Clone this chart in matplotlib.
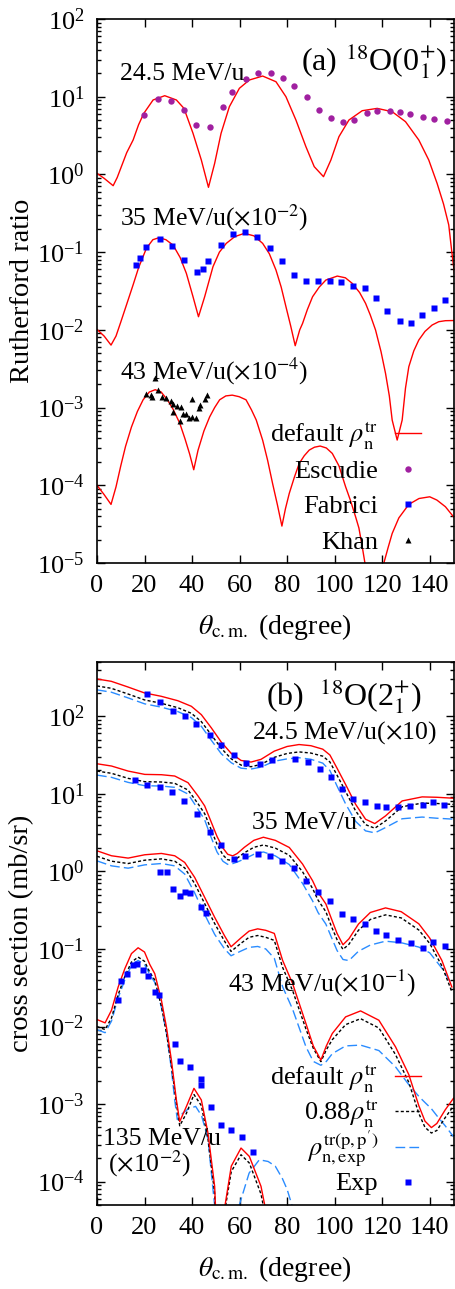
import numpy as np
import matplotlib
matplotlib.use("Agg")
import matplotlib.pyplot as plt
from matplotlib.ticker import LogLocator, NullFormatter, LogFormatterMathtext
from matplotlib.lines import Line2D

plt.rcParams.update({
    "font.family": ["Liberation Serif", "DejaVu Serif"],
    "mathtext.fontset": "stix",
    "font.size": 19,
})

# ---------------- Panel (a): elastic Rutherford ratio (log10 of unscaled value) ----------------
SCALE_A = {"24.5": 1.0, "35": 1e-2, "43": 1e-4}

a245_th = [0, 3, 6.8, 8.5, 10, 12.5, 15.2, 17.5, 19.7, 23.6, 28.5, 33.4, 36.6, 40.4, 43.9, 46.9, 49.5,
           52.2, 55.7, 59.9, 64.1, 69.7, 75.3, 79.5, 83.7, 87.9, 91.4, 95.3, 98.4, 101.8, 106.0, 111.6,
           117.9, 124.2, 129.8, 135.4, 139.6, 143.1, 145.8, 148.0, 149.3, 150.5]
a245_lg = [0.014, -0.05, -0.145, -0.04, 0.08, 0.28, 0.443, 0.64, 0.786, 0.958, 1.013, 0.958, 0.85,
           0.529, 0.185, -0.166, 0.142, 0.529, 0.872, 1.108, 1.215, 1.266, 1.193, 1.0, 0.70, 0.357,
           0.10, -0.029, 0.185, 0.486, 0.70, 0.82, 0.85, 0.807, 0.679, 0.443, 0.185, -0.115, -0.38,
           -0.65, -1.0, -1.3]

a35_th = [0, 3, 5.9, 8, 10, 12.5, 15.2, 17.5, 20.8, 23.5, 26.1, 29, 32.0, 35, 37.6, 40.4, 42.7, 45.3,
          48.8, 51.5, 54.4, 58, 62.0, 66, 69.7, 72.5, 75.3, 77.5, 79.5, 81.5, 83.4, 85.3, 86.5, 88.5,
          90.7, 93.5, 96.3, 101.1, 104.5, 107.4, 110.5, 113.0, 115, 117.2, 119.5, 121.4, 123, 124.2,
          126.3, 128.4, 129.8, 131.2, 133.3, 135.4, 138, 141.0, 143.8, 146.6, 150]
a35_lg = [0.006, -0.08, -0.196, -0.08, 0.1, 0.33, 0.58, 0.8, 1.05, 1.16, 1.186, 1.16, 1.091, 0.93,
          0.727, 0.426, 0.169, 0.426, 0.813, 1.0, 1.113, 1.2, 1.242, 1.21, 1.113, 0.98, 0.770, 0.55,
          0.298, 0.05, -0.204, 0.0, 0.083, 0.26, 0.426, 0.55, 0.641, 0.692, 0.67, 0.598, 0.48, 0.341,
          0.19, -0.002, -0.28, -0.560, -0.85, -1.161, -1.418, -1.161, -0.75, -0.474, -0.27, -0.131,
          -0.02, 0.062, 0.105, 0.118, 0.12]

a43_th = [0, 3, 5.9, 8, 10, 12, 14.5, 17, 19.4, 22, 24.5, 27, 29.6, 32, 34.8, 37, 39, 40.7, 42.5, 45,
          47.4, 49.5, 51.6, 54.2, 56.9, 59.8, 62.7, 65, 67, 69.7, 71.8, 73.9, 75.9, 77.8, 79.3, 80.9,
          83, 85.1, 87.2, 89.3, 91.5, 93.9, 96.5, 99.0, 101.8, 104.6, 106.7, 108.8, 110.2, 111.6, 113,
          115, 117, 119, 120.7, 122.5, 124.2, 127, 131.2, 135.5, 140, 143, 146.6, 150]
a43_lg = [0.0, -0.12, -0.246, -0.02, 0.25, 0.5, 0.75, 0.95, 1.10, 1.2, 1.23, 1.2, 1.10, 0.98, 0.8,
          0.6, 0.4, 0.2, 0.45, 0.7, 0.88, 1.0, 1.10, 1.15, 1.16, 1.14, 1.10, 0.97, 0.84, 0.58, 0.32,
          0.02, -0.25, -0.525, -0.3, -0.104, 0.1, 0.282, 0.38, 0.453, 0.49, 0.505, 0.48, 0.41, 0.25,
          -0.019, -0.2, -0.405, -0.55, -0.79, -1.05, -1.7, -2.6, -1.6, -1.0, -0.8, -0.62, -0.42, -0.246,
          -0.17, -0.148, -0.19, -0.276, -0.405]

escudie_th = [19.7, 25.6, 31.3, 36.6, 41.6, 47.6, 52.9, 56.7, 62.6, 67.8, 73.3, 78.2, 83.0, 88.3, 93.2,
              98.4, 103.7, 108.0, 113.6, 117.9, 123.1, 127.5, 131.7, 137.0, 141.8, 147.1]
escudie_lg = [0.769, 0.968, 0.950, 0.834, 0.631, 0.605, 0.873, 1.063, 1.222, 1.300, 1.300, 1.235, 1.140,
              1.002, 0.834, 0.721, 0.670, 0.704, 0.795, 0.812, 0.812, 0.808, 0.773, 0.739, 0.708, 0.687]

fabrici_th = [16.6, 18.0, 20.8, 26.4, 31.4, 36.7, 41.9, 44.7, 46.9, 52.2, 57.4, 62.4, 67.3, 72.9, 78.0,
              83.0, 88.0, 93.0, 98.1, 102.5, 107.9, 112.7, 117.4, 122.2, 127.4, 132.0, 136.9, 141.7, 146.3]
fabrici_lg = [0.834, 0.920, 1.061, 1.169, 1.083, 0.898, 0.748, 0.787, 0.885, 1.091, 1.233, 1.259, 1.199,
              1.053, 0.885, 0.705, 0.628, 0.628, 0.628, 0.619, 0.564, 0.538, 0.414, 0.246, 0.118, 0.088,
              0.195, 0.285, 0.384]

khan_th = [20.5, 22.9, 23.3, 24.3, 25.7, 27.4, 29.2, 31.0, 32.0, 32.0, 33.7, 34.8, 35.5, 36.2, 37.6,
           38.6, 40.1, 40.1, 41.7, 42.9, 43.4, 45.3, 46.2]
khan_lg = [1.174, 1.161, 1.139, 1.384, 1.225, 1.131, 1.118, 1.084, 1.041, 0.946, 1.023, 0.83, 1.010,
           0.912, 0.912, 0.861, 0.882, 1.109, 0.861, 0.998, 1.032, 1.109, 1.161]

# ---------------- Panel (b): inelastic cross sections (log10 of unscaled mb/sr) ----------------
SCALE_B = {"24.5": 10.0, "35": 1.0, "43": 1e-1, "135": 1e-2}

b245_th = [0, 6, 13, 20, 27, 34, 39.7, 43.9, 48.1, 52.3, 56.5, 60.6, 64.8, 69, 74.6, 80, 85, 90, 95,
           98, 101, 104.6, 108.8, 113, 116.9, 121.4, 128.4, 136.8, 143, 150]
b245_red = [1.48, 1.45, 1.377, 1.30, 1.257, 1.20, 1.128, 1.02, 0.85, 0.666, 0.52, 0.43, 0.409, 0.444,
            0.55, 0.61, 0.635, 0.62, 0.575, 0.50, 0.33, 0.12, -0.135, -0.328, -0.384, -0.285, -0.092,
            -0.04, -0.045, -0.057]
b245_blk = [1.39, 1.36, 1.287, 1.21, 1.167, 1.11, 1.038, 0.93, 0.76, 0.586, 0.45, 0.37, 0.349, 0.379,
            0.47, 0.52, 0.54, 0.525, 0.485, 0.41, 0.24, 0.03, -0.22, -0.398, -0.444, -0.35, -0.167,
            -0.12, -0.125, -0.137]
b245_blu = [1.34, 1.31, 1.237, 1.16, 1.117, 1.06, 0.983, 0.87, 0.69, 0.516, 0.40, 0.33, 0.319, 0.344,
            0.42, 0.45, 0.465, 0.445, 0.395, 0.30, 0.10, -0.13, -0.355, -0.478, -0.504, -0.435, -0.322,
            -0.30, -0.315, -0.327]

b35_th = [0, 6.1, 13.1, 20.1, 27.1, 32.7, 38.3, 42.5, 45.3, 48, 50.5, 53, 55, 57.1, 59, 62, 66, 70, 75,
          80.9, 86.5, 90.7, 93, 96.3, 98.5, 101, 103.5, 106, 110, 115, 121.4, 128, 135.4, 140, 145.1, 149.3]
b35_red = [1.387, 1.358, 1.293, 1.25, 1.246, 1.229, 1.143, 0.972, 0.844, 0.64, 0.45, 0.30, 0.22, 0.20,
           0.23, 0.31, 0.40, 0.44, 0.40, 0.308, 0.094, -0.12, -0.27, -0.42, -0.60, -0.80, -0.946, -0.87,
           -0.68, -0.53, -0.471, -0.52, -0.676, -0.86, -1.148, -1.49]
b35_blk = [1.293, 1.264, 1.199, 1.156, 1.152, 1.135, 1.049, 0.872, 0.744, 0.54, 0.35, 0.21, 0.15, 0.14,
           0.17, 0.24, 0.31, 0.34, 0.30, 0.208, -0.006, -0.22, -0.37, -0.52, -0.70, -0.88, -1.006, -0.94,
           -0.76, -0.62, -0.561, -0.60, -0.756, -0.93, -1.218, -1.55]
b35_blu = [1.241, 1.212, 1.147, 1.104, 1.10, 1.083, 0.997, 0.802, 0.664, 0.44, 0.25, 0.13, 0.09, 0.10,
           0.12, 0.16, 0.22, 0.25, 0.20, 0.088, -0.156, -0.38, -0.53, -0.68, -0.84, -1.02, -1.136, -1.15,
           -1.03, -0.95, -0.90, -0.92, -0.976, -1.05, -1.248, -1.46]

b43_th = [0, 6.1, 13.1, 20.1, 27.1, 32.7, 36.9, 41.1, 45.3, 49.5, 53.6, 56.4, 60.6, 64, 67.6, 71, 74.6,
          78.1, 82.3, 87.9, 91, 94.2, 96.5, 99, 104.6, 110.9, 118.6, 125.6, 131.2, 135.4, 138, 140.7,
          143, 146.5, 150]
b43_red = [1.265, 1.201, 1.171, 1.214, 1.231, 1.201, 1.115, 0.922, 0.665, 0.408, 0.173, 0.028, 0.143,
           0.23, 0.259, 0.24, 0.20, -0.148, -0.447, -0.961, -1.25, -1.433, -1.25, -1.09, -0.876, -0.799,
           -0.919, -1.262, -1.62, -2.02, -2.22, -2.303, -2.25, -2.075, -1.925]
b43_blk = [1.195, 1.131, 1.101, 1.144, 1.161, 1.131, 1.045, 0.842, 0.585, 0.328, 0.103, -0.032, 0.073,
           0.15, 0.173, 0.15, 0.11, -0.238, -0.537, -1.031, -1.28, -1.453, -1.30, -1.17, -0.976, -0.899,
           -1.019, -1.362, -1.72, -2.12, -2.30, -2.373, -2.34, -2.175, -2.025]
b43_blu = [1.135, 1.071, 1.041, 1.084, 1.101, 1.071, 0.965, 0.722, 0.445, 0.188, 0.003, -0.088, -0.027,
           0.02, 0.032, 0.0, -0.12, -0.488, -0.777, -1.26, -1.45, -1.50, -1.45, -1.35, -1.25, -1.24,
           -1.31, -1.52, -1.75, -1.9, -1.98, -2.06, -2.15, -2.28, -2.42]

b135_th = [0, 3.4, 6.1, 8.9, 11.7, 14.5, 17.3, 20, 22.2, 24.3, 27.1, 29.2, 31.3, 33.4, 34.8, 37.6, 40.8,
           43.9, 46.7, 49.5, 51.5, 53.9, 56.5, 60.6, 64.1, 69.0, 72.5]
b135_red = [0.09, 0.047, 0.21, 0.509, 0.745, 0.94, 1.015, 0.96, 0.80, 0.681, 0.338, -0.005, -0.433,
            -0.947, -1.225, -1.032, -0.797, -0.947, -1.375, -2.06, -3.5, -2.3, -1.80, -1.567, -1.675,
            -2.06, -2.6]
b135_blk = [0.0, -0.04, 0.11, 0.41, 0.645, 0.83, 0.895, 0.84, 0.70, 0.60, 0.26, -0.08, -0.50, -0.99,
            -1.28, -1.12, -0.877, -1.02, -1.45, -2.15, -3.5, -2.35, -1.87, -1.653, -1.76, -2.16, -2.7]
b135_blu_th = [0, 3.4, 6.1, 8.9, 11.7, 14.5, 17.3, 20, 22.2, 24.3, 27.1, 29.2, 31.3, 32.7, 33.8, 36,
               38.5, 41.5, 44, 46.7, 48.8, 50.5, 52, 57, 59.9, 64, 68.3, 72, 75, 78, 80, 82, 84]
b135_blu = [-0.04, -0.08, 0.07, 0.37, 0.60, 0.79, 0.852, 0.80, 0.67, 0.57, 0.25, -0.08, -0.55, -0.95,
            -1.2, -1.12, -1.06, -1.03, -1.15, -1.45, -2.1, -2.6, -3.5, -3.5, -2.3, -1.89, -1.718, -1.74,
            -1.80, -1.96, -2.1, -2.3, -2.6]

exp245_th = [21.2, 26.4, 32.1, 36.9, 41.8, 47.4, 52.0, 57.8, 62.9, 68.7, 73.6, 83.4, 88.6, 93.9, 98.5,
             103.1, 107.8, 112.7, 117.8, 121.8, 126.7, 131.6, 137.0, 141.2, 145.8]
exp245_lg = [1.287, 1.184, 1.064, 1.0, 0.901, 0.756, 0.627, 0.499, 0.40, 0.387, 0.43, 0.452, 0.413,
             0.323, 0.216, 0.066, -0.066, -0.101, -0.152, -0.165, -0.165, -0.152, -0.143, -0.101, -0.143]
exp35_th = [15.9, 21.0, 26.4, 31.4, 36.6, 41.9, 47.4, 52.3, 57.5, 62.4, 67.6, 72.9, 77.8, 83.0, 87.9,
            93.0, 98.1, 103.2, 107.7, 112.7, 117.6, 121.8, 126.6, 132.0, 137.0, 141.5, 146.6]
exp35_lg = [1.174, 1.109, 1.088, 1.028, 0.908, 0.745, 0.501, 0.338, 0.159, 0.201, 0.223, 0.201, 0.137,
            0.043, -0.12, -0.261, -0.386, -0.548, -0.617, -0.681, -0.771, -0.814, -0.882, -0.921, -0.99,
            -0.913, -0.964]
exp43_th = [26.7, 29.6, 32.0, 34.8, 36.9, 39.3, 43.9, 46.0]
exp43_lg = [0.987, 0.987, 0.773, 0.678, 0.73, 0.722, 0.537, 0.46]
exp135_th = [8.7, 10.3, 12.8, 15.2, 17.0, 19.4, 21.5, 24.6, 26.0, 32.7, 34.8, 39.3, 43.6, 43.6, 47.8,
             52.3, 56.5, 61.0, 65.5]
exp135_lg = [0.346, 0.586, 0.681, 0.788, 0.801, 0.724, 0.647, 0.445, 0.402, -0.227, -0.446, -0.519,
             -0.681, -0.754, -1.04, -1.264, -1.332, -1.418, -1.624]

XTICKS = [0, 20, 40, 60, 80, 100, 120, 140]

RED = "#ff0000"
BLUE_LINE = "#2a8cff"
PURPLE = "#a020a0"
BLUE_SQ = "#0000ff"


def val(lg, scale):
    return scale * 10.0 ** np.asarray(lg, dtype=float)


def style_axes(ax, ylim):
    ax.set_yscale("log")
    ax.set_xlim(0, 150)
    ax.set_ylim(*ylim)
    ax.set_xticks(XTICKS)
    ax.yaxis.set_major_locator(LogLocator(base=10, numticks=20))
    ax.yaxis.set_major_formatter(LogFormatterMathtext())
    ax.yaxis.set_minor_locator(LogLocator(base=10, subs=np.arange(2, 10), numticks=20))
    ax.yaxis.set_minor_formatter(NullFormatter())
    ax.tick_params(which="both", direction="in", top=True, right=True, width=1.0)
    ax.tick_params(which="major", length=6, labelsize=19)
    ax.tick_params(axis="x", which="major", pad=9)
    ax.tick_params(axis="y", which="major", pad=9)
    ax.tick_params(which="minor", length=3)
    for s in ax.spines.values():
        s.set_linewidth(1.2)
    ax.set_xlabel(r"$\theta_{\mathrm{c.m.}}$ (degree)", fontsize=20)
    ax.xaxis.set_label_coords(0.5, -0.09)


fig = plt.figure(figsize=(4.55, 12.89), dpi=100)
W, H = 455.0, 1289.0
axA = fig.add_axes([97 / W, 1 - 563 / H, 356.5 / W, 544 / H])
axB = fig.add_axes([97 / W, 1 - 1205 / H, 356.5 / W, 543 / H])

# ---- panel (a)
style_axes(axA, (1e-5, 1e2))
axA.set_ylabel("Rutherford ratio", fontsize=20.5)
axA.yaxis.set_label_coords(-0.175, 0.5)
for th, lg, key in [(a245_th, a245_lg, "24.5"), (a35_th, a35_lg, "35"), (a43_th, a43_lg, "43")]:
    axA.plot(th, val(lg, SCALE_A[key]), color=RED, lw=1.0)
axA.plot(escudie_th, val(escudie_lg, SCALE_A["24.5"]), "o", color=PURPLE, ms=4.6, mec="none")
axA.plot(fabrici_th, val(fabrici_lg, SCALE_A["35"]), "s", color=BLUE_SQ, ms=4.4, mec="none")
axA.plot(khan_th, val(khan_lg, SCALE_A["43"]), "^", color="black", ms=4.6, mec="none")

axA.text(9.7, 10 ** 1.215, "24.5 MeV/u", fontsize=18.5, va="baseline", ha="left")
axA.text(9.7, 10 ** -0.651, r"35 MeV/u($\times$10$^{-2}$)", fontsize=18.5, va="baseline", ha="left")
axA.text(9.7, 10 ** -2.646, r"43 MeV/u($\times$10$^{-4}$)", fontsize=18.5, va="baseline", ha="left")
axA.text(147.1, 10 ** 1.335, r"(a) $^{18}$O(0$_{1}^{+}$)", fontsize=23, va="baseline", ha="right")

# legend (a), gnuplot-style: text then sample
rows = [0.239, 0.173, 0.108, 0.042]
labels_a = [r"default $\rho_{\mathrm{n}}^{\mathrm{tr}}$", "Escudie", "Fabrici", "Khan"]
for y, lab in zip(rows, labels_a):
    axA.text(0.789, y - 0.016, lab, transform=axA.transAxes, ha="right", va="baseline", fontsize=19)
axA.add_line(Line2D([0.836, 0.909], [rows[0], rows[0]], transform=axA.transAxes, color=RED, lw=1.0))
axA.add_line(Line2D([0.872], [rows[1]], transform=axA.transAxes, marker="o", color=PURPLE, ms=4.6, mec="none"))
axA.add_line(Line2D([0.872], [rows[2]], transform=axA.transAxes, marker="s", color=BLUE_SQ, ms=4.6, mec="none"))
axA.add_line(Line2D([0.872], [rows[3]], transform=axA.transAxes, marker="^", color="black", ms=4.6, mec="none"))

# ---- panel (b)
style_axes(axB, (5e-5, 500))
axB.set_ylabel("cross section (mb/sr)", fontsize=20.5)
axB.yaxis.set_label_coords(-0.175, 0.5)
curves_b = [
    (b245_th, b245_red, b245_blk, b245_th, b245_blu, "24.5"),
    (b35_th, b35_red, b35_blk, b35_th, b35_blu, "35"),
    (b43_th, b43_red, b43_blk, b43_th, b43_blu, "43"),
    (b135_th, b135_red, b135_blk, b135_blu_th, b135_blu, "135"),
]
for th, red, blk, bth, blu, key in curves_b:
    s = SCALE_B[key]
    axB.plot(bth, val(blu, s), color=BLUE_LINE, lw=1.0, dashes=(7, 3))
    axB.plot(th, val(blk, s), color="black", lw=1.0, dashes=(2.2, 1.6))
    axB.plot(th, val(red, s), color=RED, lw=1.0)
for th, lg, key in [(exp245_th, exp245_lg, "24.5"), (exp35_th, exp35_lg, "35"),
                    (exp43_th, exp43_lg, "43"), (exp135_th, exp135_lg, "135")]:
    axB.plot(th, val(lg, SCALE_B[key]), "s", color=BLUE_SQ, ms=4.4, mec="none")

axB.text(136.6, 10 ** 2.141, r"(b)  $^{18}$O(2$_{1}^{+}$)", fontsize=23, va="baseline", ha="right")
axB.text(65.2, 10 ** 1.713, r"24.5 MeV/u($\times$10)", fontsize=18.5, va="baseline", ha="left")
axB.text(65.2, 10 ** 0.552, "35 MeV/u", fontsize=18.5, va="baseline", ha="left")
axB.text(55.2, 10 ** -1.555, r"43 MeV/u($\times$10$^{-1}$)", fontsize=18.5, va="baseline", ha="left")
axB.text(2.7, 10 ** -3.525, "135 MeV/u", fontsize=18.5, va="baseline", ha="left")
axB.text(4.7, 10 ** -3.868, r"($\times$10$^{-2}$)", fontsize=18.5, va="baseline", ha="left")

rows_b = [0.2376, 0.1737, 0.1074, 0.0429]
labels_b = [r"default $\rho_{\mathrm{n}}^{\mathrm{tr}}$", r"0.88$\rho_{\mathrm{n}}^{\mathrm{tr}}$",
            r"$\rho_{\mathrm{n,exp}}^{\mathrm{tr(p,p')}}$", "Exp"]
for y, lab in zip(rows_b, labels_b):
    axB.text(0.789, y - 0.016, lab, transform=axB.transAxes, ha="right", va="baseline", fontsize=19)
axB.add_line(Line2D([0.836, 0.909], [rows_b[0]] * 2, transform=axB.transAxes, color=RED, lw=1.0))
axB.add_line(Line2D([0.836, 0.909], [rows_b[1]] * 2, transform=axB.transAxes, color="black", lw=1.0, dashes=(2.2, 1.6)))
axB.add_line(Line2D([0.836, 0.909], [rows_b[2]] * 2, transform=axB.transAxes, color=BLUE_LINE, lw=1.0, dashes=(7, 3)))
axB.add_line(Line2D([0.872], [rows_b[3]], transform=axB.transAxes, marker="s", color=BLUE_SQ, ms=4.6, mec="none"))

fig.savefig("out.png", dpi=100)
